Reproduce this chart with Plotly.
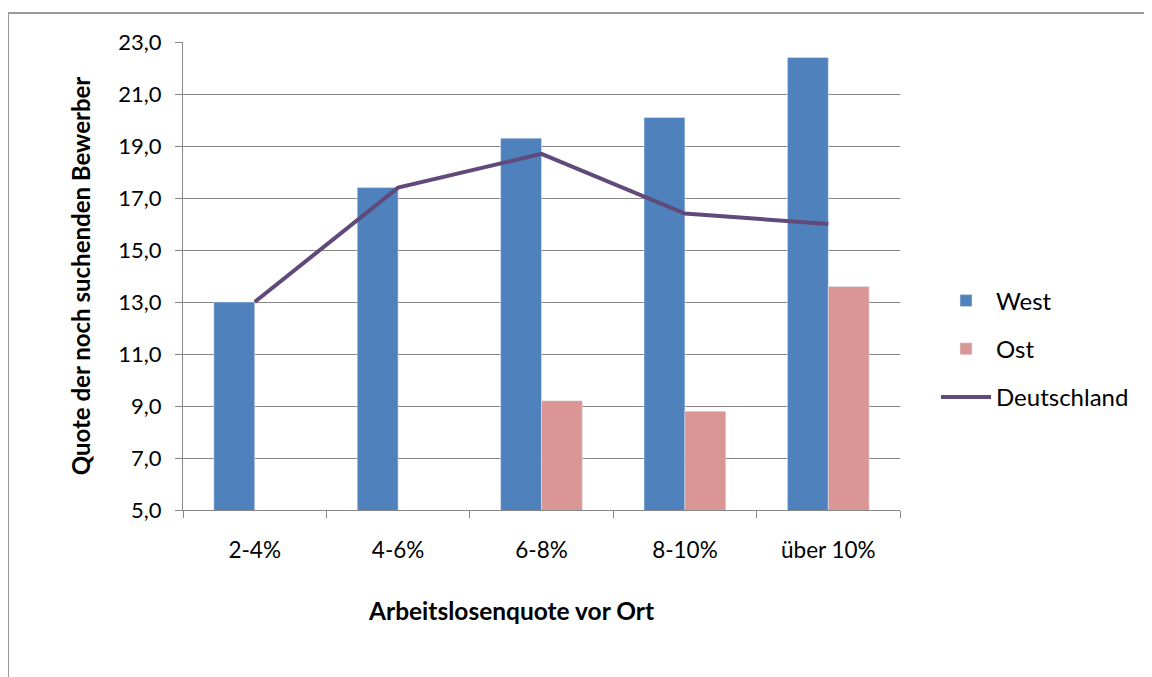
import plotly.graph_objects as go

categories = ["2-4%", "4-6%", "6-8%", "8-10%", "über 10%"]
west = [13.0, 17.4, 19.3, 20.1, 22.4]
ost = [None, None, 9.2, 8.8, 13.6]
deutschland = [13.0, 17.4, 18.7, 16.4, 16.0]
y_ticks = [5, 7, 9, 11, 13, 15, 17, 19, 21, 23]

FONT = "Lato"
GRID = "#878787"

fig = go.Figure()
fig.add_trace(go.Bar(x=categories, y=west, name="West", marker_color="#4F81BD",
                     legendgroup="w"))
fig.add_trace(go.Bar(x=categories, y=ost, name="Ost", marker_color="#D99694",
                     legendgroup="o"))
fig.add_trace(go.Scatter(x=categories, y=deutschland, name="Deutschland", mode="lines",
                         line=dict(color="#604A7B", width=4), legendgroup="d"))

# page body has an 8px margin; work in reference pixel coords minus 8
OFF = 8
W, H = 1152 - OFF, 677 - OFF
L, R, T, B = 183 - OFF, 900 - OFF, 42 - OFF, 510 - OFF
pw, ph = R - L, B - T

fig.update_layout(
    width=W, height=H,
    margin=dict(l=L, r=W - R, t=T, b=H - B, autoexpand=False),
    paper_bgcolor="white", plot_bgcolor="white",
    font=dict(family=FONT, size=22, color="black"),
    separators=",.",
    barmode="group", bargap=0.43, bargroupgap=0,
    showlegend=True,
    legend=dict(x=1 + (936 - 900) / pw, xanchor="left", y=(510 - 349) / ph, yanchor="middle",
                font=dict(size=24, family=FONT), tracegroupgap=14,
                bgcolor="rgba(0,0,0,0)", itemwidth=50),
    xaxis=dict(
        type="category", showgrid=False, showline=True, linecolor=GRID, linewidth=1,
        ticks="outside", tickson="boundaries", ticklen=7, tickcolor=GRID,
        ticklabelstandoff=20, tickfont=dict(size=22.5),
    ),
    yaxis=dict(
        range=[5, 23], tickvals=y_ticks, tickformat=".1f",
        showgrid=True, gridcolor=GRID, gridwidth=1,
        showline=True, linecolor=GRID, linewidth=1,
        ticks="outside", ticklen=7, tickcolor=GRID,
        ticklabelstandoff=9, tickfont=dict(size=22),
        zeroline=False,
        title=dict(text="<b>Quote der noch suchenden Bewerber</b>", font=dict(size=24), standoff=20),
    ),
)

fig.add_annotation(text="<b>Arbeitslosenquote vor Ort</b>", xref="paper", yref="paper",
                   x=(511 - 183) / pw, y=(510 - 610) / ph, xanchor="center", yanchor="middle",
                   showarrow=False, font=dict(size=24.5, family=FONT, color="black"))

fig.add_shape(type="rect", xref="paper", yref="paper",
              x0=(8 - 183) / pw, x1=(1152 + 20 - 183) / pw,
              y0=(510 - (677 + 20)) / ph, y1=(510 - 13) / ph,
              line=dict(color="#9A9A9A", width=2), fillcolor="rgba(0,0,0,0)", layer="below")

fig.write_html("out.html")
